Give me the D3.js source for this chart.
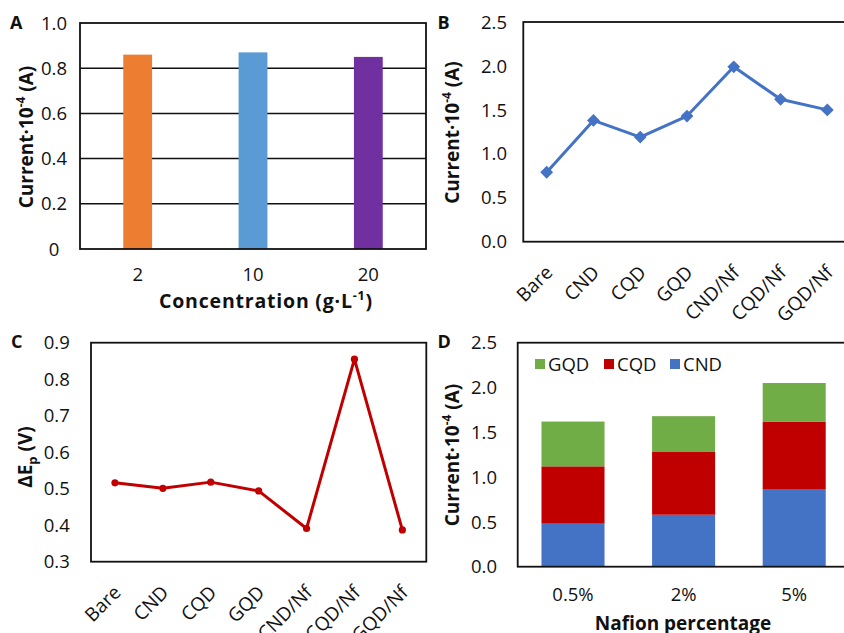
<!DOCTYPE html>
<html>
<head>
<meta charset="utf-8">
<script src="https://cdn.jsdelivr.net/npm/d3@7"></script>
<style>
  html, body { margin: 0; padding: 0; background: #fff; }
  svg { display: block; font-family: "Open Sans", sans-serif; }
</style>
</head>
<body>
<svg id="fig" width="844" height="633"></svg>
<script>
// ---- data ----
const concCategories = ["2", "10", "20"];
const concCurrent = [0.86, 0.87, 0.85];
const concColors = ["#ED7D31", "#5B9BD5", "#7030A0"];

const electrodeCategories = ["Bare", "CND", "CQD", "GQD", "CND/Nf", "CQD/Nf", "GQD/Nf"];
const electrodeCurrent = [0.79, 1.38, 1.19, 1.43, 1.99, 1.62, 1.50];
const peakSeparation = [0.516, 0.501, 0.518, 0.494, 0.391, 0.855, 0.387];

const nafionCategories = ["0.5%", "2%", "5%"];
const cndCurrent = [0.48, 0.58, 0.86];
const cqdCurrent = [0.64, 0.70, 0.76];
const gqdCurrent = [0.50, 0.40, 0.43];

const ticksA = [0, 0.2, 0.4, 0.6, 0.8, 1.0];
const ticksB = [0, 0.5, 1.0, 1.5, 2.0, 2.5];
const ticksC = [0.3, 0.4, 0.5, 0.6, 0.7, 0.8, 0.9];
const ticksD = [0, 0.5, 1.0, 1.5, 2.0, 2.5];

const svg = d3.select("#fig");
const TICK_FS = 18.5, TITLE_FS = 19, INK = "#111";

function frame(x0, y0, x1, y1) {
  svg.append("rect").attr("x", x0).attr("y", y0).attr("width", x1 - x0).attr("height", y1 - y0)
    .attr("fill", "none").attr("stroke", INK).attr("stroke-width", 1.8);
}
function yTicks(scale, ticks, cx, fmt) {
  svg.append("g").selectAll("text").data(ticks).join("text")
    .attr("x", cx).attr("y", d => scale(d)).attr("dy", "0.36em")
    .attr("text-anchor", "middle").attr("font-size", TICK_FS).attr("fill", INK)
    .text(fmt);
}
function panelLetter(t, x, y) {
  svg.append("text").attr("x", x).attr("y", y).attr("font-size", 18).attr("font-weight", "bold")
    .attr("fill", INK).text(t);
}
function currentTitle(x, cy) {
  const t = svg.append("text").attr("transform", `translate(${x},${cy}) rotate(-90)`)
    .attr("text-anchor", "middle").attr("font-size", TITLE_FS).attr("font-weight", "bold").attr("fill", INK);
  t.append("tspan").text("Current·10");
  t.append("tspan").attr("font-size", 12).attr("dy", -8).text("-4");
  t.append("tspan").attr("dy", 8).text(" (A)");
}
function rotatedLabels(scale, cats, axisY) {
  svg.append("g").selectAll("text").data(cats).join("text")
    .attr("transform", d => `translate(${scale(d) + 7},${axisY + 32}) rotate(-45)`)
    .attr("text-anchor", "end").attr("font-size", 19).attr("fill", INK).text(d => d);
}

// ---- Panel A: current vs. concentration ----
{
  const L = 80, R = 426, T = 23, B = 249;
  const x = d3.scaleBand().domain(concCategories).range([L, R]).paddingInner(0.75).paddingOuter(0.375);
  const y = d3.scaleLinear().domain([0, 1]).range([B, T]);
  svg.append("g").selectAll("line").data(ticksA.slice(1, -1)).join("line")
    .attr("x1", L).attr("x2", R).attr("y1", d => y(d)).attr("y2", d => y(d))
    .attr("stroke", INK).attr("stroke-width", 1.5);
  svg.append("g").selectAll("rect").data(concCategories).join("rect")
    .attr("x", d => x(d)).attr("width", x.bandwidth())
    .attr("y", (d, i) => y(concCurrent[i])).attr("height", (d, i) => B - y(concCurrent[i]))
    .attr("fill", (d, i) => concColors[i]);
  frame(L, T, R, B);
  yTicks(y, ticksA, 54, d => d === 0 ? "0" : d3.format(".1f")(d));
  svg.append("g").selectAll("text").data(concCategories).join("text")
    .attr("x", d => x(d) + x.bandwidth() / 2).attr("y", 281).attr("text-anchor", "middle")
    .attr("font-size", TICK_FS).attr("fill", INK).text(d => d);
  const xt = svg.append("text").attr("x", 266).attr("y", 308).attr("text-anchor", "middle")
    .attr("font-size", 19.5).attr("letter-spacing", 0.8).attr("font-weight", "bold").attr("fill", INK);
  xt.append("tspan").text("Concentration (g·L");
  xt.append("tspan").attr("font-size", 12.5).attr("dy", -8).text("-1");
  xt.append("tspan").attr("dy", 8).text(")");
  currentTitle(33, 137);
  panelLetter("A", 10, 29);
}

// ---- Panel B: current for each electrode ----
{
  const L = 523.3, R = 850.7, T = 22, B = 241.7;
  const x = d3.scalePoint().domain(electrodeCategories).range([L, R]).padding(0.5);
  const y = d3.scaleLinear().domain([0, 2.5]).range([B, T]);
  frame(L, T, R, B);
  const pts = electrodeCategories.map((c, i) => [x(c), y(electrodeCurrent[i])]);
  svg.append("path").attr("d", d3.line()(pts)).attr("fill", "none")
    .attr("stroke", "#4472C4").attr("stroke-width", 3).attr("stroke-linejoin", "round");
  svg.append("g").selectAll("path").data(pts).join("path")
    .attr("transform", d => `translate(${d[0]},${d[1]}) rotate(45)`)
    .attr("d", d3.symbol(d3.symbolSquare, 82)()).attr("fill", "#4472C4");
  yTicks(y, ticksB, 494, d3.format(".1f"));
  rotatedLabels(x, electrodeCategories, B);
  currentTitle(458.5, 132.5);
  panelLetter("B", 437.5, 28.5);
}

// ---- Panel C: peak separation for each electrode ----
{
  const L = 91, R = 426.3, T = 342.7, B = 561.7;
  const x = d3.scalePoint().domain(electrodeCategories).range([L, R]).padding(0.5);
  const y = d3.scaleLinear().domain([0.3, 0.9]).range([B, T]);
  frame(L, T, R, B);
  const pts = electrodeCategories.map((c, i) => [x(c), y(peakSeparation[i])]);
  svg.append("path").attr("d", d3.line()(pts)).attr("fill", "none")
    .attr("stroke", "#C00000").attr("stroke-width", 3).attr("stroke-linejoin", "round");
  svg.append("g").selectAll("circle").data(pts).join("circle")
    .attr("cx", d => d[0]).attr("cy", d => d[1]).attr("r", 3.6).attr("fill", "#C00000");
  yTicks(y, ticksC, 56.7, d3.format(".1f"));
  rotatedLabels(x, electrodeCategories, B);
  const t = svg.append("text").attr("transform", `translate(32,457) rotate(-90)`)
    .attr("text-anchor", "middle").attr("font-size", TITLE_FS).attr("font-weight", "bold").attr("fill", INK);
  t.append("tspan").text("ΔE");
  t.append("tspan").attr("font-size", 13).attr("dy", 5).text("p");
  t.append("tspan").attr("dy", -5).text(" (V)");
  panelLetter("C", 11, 348);
}

// ---- Panel D: stacked current vs. Nafion percentage ----
{
  const L = 517.7, R = 849.5, T = 342.7, B = 566.7;
  const x = d3.scaleBand().domain(nafionCategories).range([L, R]).paddingInner(0.43).paddingOuter(0.215);
  const y = d3.scaleLinear().domain([0, 2.5]).range([B, T]);
  const keys = ["CND", "CQD", "GQD"];
  const colors = { CND: "#4472C4", CQD: "#C00000", GQD: "#70AD47" };
  const rows = nafionCategories.map((c, i) => ({ cat: c, CND: cndCurrent[i], CQD: cqdCurrent[i], GQD: gqdCurrent[i] }));
  const stack = d3.stack().keys(keys)(rows);
  svg.append("g").selectAll("g").data(stack).join("g").attr("fill", s => colors[s.key])
    .selectAll("rect").data(s => s).join("rect")
    .attr("x", d => x(d.data.cat)).attr("width", x.bandwidth())
    .attr("y", d => y(d[1])).attr("height", d => y(d[0]) - y(d[1]));
  frame(L, T, R, B);
  yTicks(y, ticksD, 484, d3.format(".1f"));
  svg.append("g").selectAll("text").data(nafionCategories).join("text")
    .attr("x", d => x(d) + x.bandwidth() / 2).attr("y", 601).attr("text-anchor", "middle")
    .attr("font-size", TICK_FS).attr("fill", INK).text(d => d);
  svg.append("text").attr("x", 683).attr("y", 630).attr("text-anchor", "middle")
    .attr("font-size", TITLE_FS).attr("font-weight", "bold").attr("fill", INK).text("Nafion percentage");
  currentTitle(459, 455);
  panelLetter("D", 437.5, 347.5);
  // legend
  const legendKeys = ["GQD", "CQD", "CND"];
  const legX = [535, 604, 670];
  const lg = svg.append("g").selectAll("g").data(legendKeys).join("g")
    .attr("transform", (d, i) => `translate(${legX[i]},359)`);
  lg.append("rect").attr("width", 10).attr("height", 10).attr("fill", d => colors[d]);
  lg.append("text").attr("x", 13).attr("y", 5).attr("dy", "0.36em").attr("font-size", TICK_FS)
    .attr("fill", INK).text(d => d);
}
</script>
</body>
</html>
